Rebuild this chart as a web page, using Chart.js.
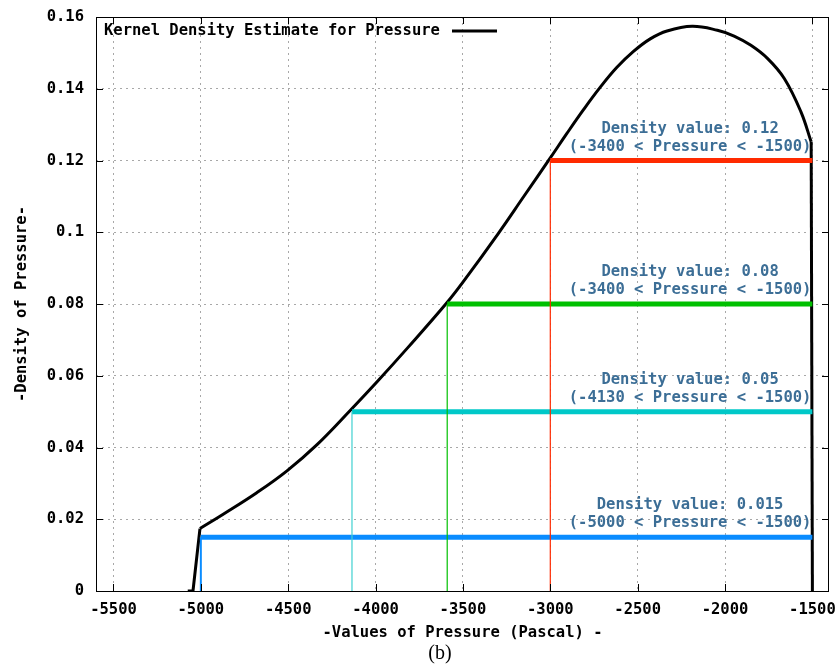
<!DOCTYPE html>
<html>
<head>
<meta charset="utf-8">
<script src="https://cdn.jsdelivr.net/npm/chart.js@4/dist/chart.umd.min.js"></script>
<style>
html, body { margin: 0; padding: 0; background: #fff; }
</style>
</head>
<body>
<canvas id="kdeChart" width="838" height="668"></canvas>
<script>
// axis ticks
var xTicks = [-5500, -5000, -4500, -4000, -3500, -3000, -2500, -2000, -1500];
var yTicks = [0, 0.02, 0.04, 0.06, 0.08, 0.1, 0.12, 0.14, 0.16];

// kernel density curve
var pressure = [-5075, -5045, -5005, -4872, -4680, -4507, -4335, -4144, -3990, -3818, -3598, -3500,
    -3300, -3150, -3003, -2907, -2811, -2716, -2620, -2524, -2428, -2332, -2188, -2044, -1948,
    -1852, -1756, -1660, -1565, -1507, -1500];
var density = [0, 0, 0.0174, 0.0214, 0.0274, 0.0335, 0.0408, 0.0504, 0.0584, 0.0677, 0.0800, 0.0861,
    0.0995, 0.1101, 0.1205, 0.1274, 0.1341, 0.1403, 0.1459, 0.1504, 0.1539, 0.1561, 0.1574, 0.1563, 0.1547,
    0.1521, 0.1484, 0.1428, 0.1335, 0.1252, 0];

// density thresholds
var levels = [0.12, 0.08, 0.05, 0.015];
var levelStart = [-3000, -3590, -4135, -5000];
var levelEnd = -1500;
var levelColors = ['#ff2a00', '#00c000', '#00c8c8', '#0a8cff'];
var stemColors = ['#ff2a00', '#00c000', '#40d0d0', '#0a8cff'];
var levelLabel = ['Density value: 0.12', 'Density value: 0.08', 'Density value: 0.05', 'Density value: 0.015'];
var rangeLabel = ['(-3400 < Pressure < -1500)', '(-3400 < Pressure < -1500)',
    '(-4130 < Pressure < -1500)', '(-5000 < Pressure < -1500)'];
var labelAt = -2200;

var monoFont = { family: '"DejaVu Sans Mono", "Liberation Mono", monospace', size: 15.5, weight: 'bold' };
var monoCss = 'bold 15.5px "DejaVu Sans Mono", "Liberation Mono", monospace';

function points(from, to) {
    var out = [];
    for (var i = from; i <= to; i++) out.push({ x: pressure[i], y: density[i] });
    return out;
}

var datasets = [];
levels.forEach(function (lv, i) {
    datasets.push({
        data: [{ x: levelStart[i], y: 0 }, { x: levelStart[i], y: lv }],
        borderColor: stemColors[i],
        borderWidth: i === 3 ? 2 : 1.2,
        pointRadius: 0
    });
    datasets.push({
        data: [{ x: levelStart[i], y: lv }, { x: levelEnd, y: lv }],
        borderColor: levelColors[i],
        borderWidth: 5,
        borderCapStyle: 'butt',
        pointRadius: 0
    });
});

// curve: straight foot, smooth body, straight drop at the cut-off
var last = pressure.length - 1;
[[0, 2, 0], [2, last - 1, 0.4], [last - 1, last, 0]].forEach(function (part) {
    datasets.push({
        label: 'Kernel Density Estimate for Pressure',
        data: points(part[0], part[1]),
        borderColor: '#000',
        borderWidth: 3,
        borderJoinStyle: 'round',
        pointRadius: 0,
        tension: part[2]
    });
});

var decorations = {
    id: 'decorations',
    afterDatasetsDraw: function (chart) {
        var ctx = chart.ctx;
        var a = chart.chartArea;
        var xs = chart.scales.x, ys = chart.scales.y;
        ctx.save();

        // plot frame
        ctx.strokeStyle = '#000';
        ctx.lineWidth = 1;
        ctx.strokeRect(a.left + 0.5, a.top + 0.5, a.right - a.left - 1, a.bottom - a.top);

        // inward tick marks
        ctx.beginPath();
        xTicks.forEach(function (v) {
            var px = Math.round(xs.getPixelForValue(v)) + 0.5;
            ctx.moveTo(px, a.bottom); ctx.lineTo(px, a.bottom - 7);
            ctx.moveTo(px, a.top); ctx.lineTo(px, a.top + 7);
        });
        yTicks.forEach(function (v) {
            var py = Math.round(ys.getPixelForValue(v)) + 0.5;
            ctx.moveTo(a.left, py); ctx.lineTo(a.left + 7, py);
            ctx.moveTo(a.right, py); ctx.lineTo(a.right - 7, py);
        });
        ctx.stroke();

        // threshold labels
        ctx.font = monoCss;
        ctx.fillStyle = '#3c6e96';
        ctx.textAlign = 'center';
        ctx.textBaseline = 'middle';
        levels.forEach(function (lv, i) {
            var px = xs.getPixelForValue(labelAt);
            var py = ys.getPixelForValue(lv);
            ctx.fillText(levelLabel[i], px, py - 32);
            ctx.fillText(rangeLabel[i], px, py - 14);
        });

        // key
        ctx.fillStyle = '#000';
        ctx.textAlign = 'left';
        ctx.fillText('Kernel Density Estimate for Pressure', a.left + 8, a.top + 14);
        ctx.lineWidth = 3;
        ctx.beginPath();
        ctx.moveTo(a.left + 356, a.top + 14);
        ctx.lineTo(a.left + 401, a.top + 14);
        ctx.stroke();

        // caption
        ctx.font = '20px "Liberation Serif", "DejaVu Serif", serif';
        ctx.textAlign = 'center';
        ctx.fillText('(b)', 440, 654);
        ctx.restore();
    }
};

var ctx = document.getElementById('kdeChart').getContext('2d');
new Chart(ctx, {
    type: 'line',
    data: { datasets: datasets },
    options: {
        responsive: false,
        animation: false,
        layout: { padding: { left: 0, right: 9, top: 17, bottom: 0 } },
        plugins: {
            legend: { display: false },
            tooltip: { enabled: false }
        },
        scales: {
            x: {
                type: 'linear',
                min: -5600,
                max: -1405,
                afterBuildTicks: function (s) { s.ticks = xTicks.map(function (v) { return { value: v }; }); },
                afterFit: function (s) { s.height = 77; s.paddingLeft = 0; s.paddingRight = 0; },
                ticks: {
                    autoSkip: false,
                    maxRotation: 0,
                    padding: 10,
                    color: '#000',
                    font: monoFont,
                    callback: function (v) { return String(v); }
                },
                grid: { color: '#a8a8a8', drawTicks: false, lineWidth: 1 },
                border: { display: false, dash: [2, 4] },
                title: {
                    display: true,
                    text: '-Values of Pressure (Pascal) -',
                    color: '#000',
                    font: monoFont,
                    padding: { top: 0, bottom: 26 }
                }
            },
            y: {
                min: 0,
                max: 0.16,
                afterBuildTicks: function (s) { s.ticks = yTicks.map(function (v) { return { value: v }; }); },
                afterFit: function (s) { s.width = 96; s.paddingTop = 0; s.paddingBottom = 0; },
                ticks: {
                    padding: 12,
                    color: '#000',
                    font: monoFont,
                    callback: function (v) { return String(Number(v.toFixed(2))); }
                },
                grid: { color: '#a8a8a8', drawTicks: false, lineWidth: 1 },
                border: { display: false, dash: [2, 4] },
                title: {
                    display: true,
                    text: '-Density of Pressure-',
                    color: '#000',
                    font: monoFont,
                    padding: { top: 13, bottom: 0 }
                }
            }
        }
    },
    plugins: [decorations]
});
</script>
</body>
</html>
